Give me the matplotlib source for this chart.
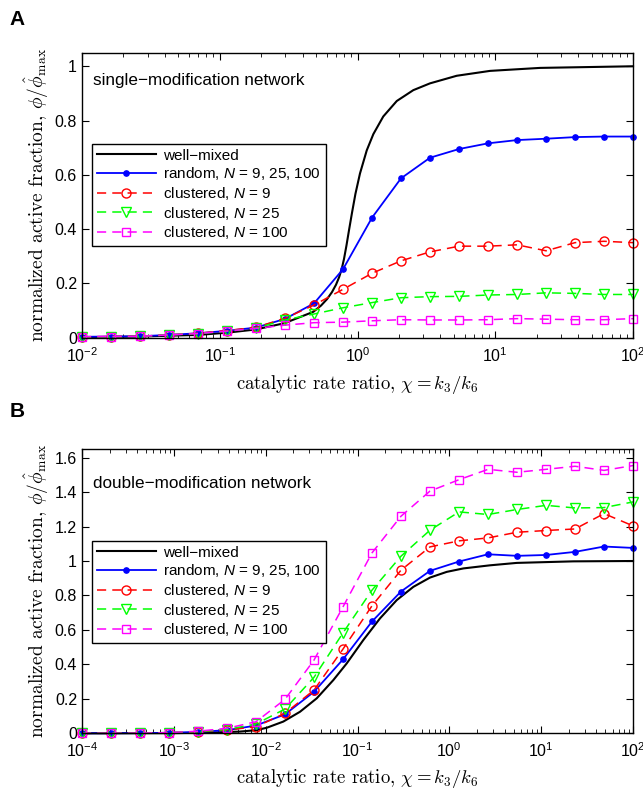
import matplotlib
matplotlib.use("Agg")
import matplotlib.pyplot as plt
import numpy as np

plt.rcParams['font.family'] = ['Liberation Sans', 'DejaVu Sans']
plt.rcParams['mathtext.fontset'] = 'custom'
plt.rcParams['mathtext.rm'] = 'Liberation Sans'
plt.rcParams['mathtext.it'] = 'Liberation Sans:italic'
plt.rcParams['mathtext.bf'] = 'Liberation Sans:bold'

# ---- panel A data (single-modification) ----
chiA = np.logspace(-2, 2, 20)
wmA_logx = [-2.0, -1.579, -1.158, -0.95, -0.739, -0.531, -0.321, -0.265, -0.221, -0.185,
            -0.156, -0.134, -0.115, -0.098, -0.080, -0.062, -0.040, -0.015, 0.018, 0.067,
            0.115, 0.187, 0.285, 0.405, 0.526, 0.720, 0.962, 1.325, 2.0]
wmA_y = [0.001, 0.004, 0.010, 0.018, 0.030, 0.053, 0.095, 0.118, 0.142, 0.168,
         0.195, 0.222, 0.252, 0.290, 0.340, 0.395, 0.460, 0.530, 0.605, 0.690,
         0.750, 0.815, 0.872, 0.912, 0.937, 0.965, 0.983, 0.994, 1.0]
randA = [0.003, 0.004, 0.005, 0.010, 0.016, 0.025, 0.037, 0.069, 0.126, 0.252, 0.442,
         0.587, 0.663, 0.695, 0.716, 0.728, 0.733, 0.739, 0.741, 0.741]
cl9A = [0.003, 0.004, 0.005, 0.010, 0.016, 0.026, 0.038, 0.071, 0.120, 0.178, 0.237,
        0.283, 0.316, 0.337, 0.337, 0.342, 0.320, 0.350, 0.355, 0.350]
cl25A = [0.002, 0.003, 0.005, 0.010, 0.015, 0.023, 0.035, 0.065, 0.087, 0.110, 0.129,
         0.147, 0.151, 0.152, 0.157, 0.159, 0.165, 0.163, 0.159, 0.159]
cl100A = [0.003, 0.004, 0.005, 0.010, 0.015, 0.024, 0.034, 0.046, 0.055, 0.057, 0.062,
          0.066, 0.065, 0.065, 0.066, 0.070, 0.068, 0.066, 0.066, 0.070]

# ---- panel B data (double-modification) ----
chiB = np.logspace(-4, 2, 20)
wmB_logx = [-4.0, -3.0, -2.606, -2.279, -2.105, -1.989, -1.808, -1.626, -1.444, -1.263,
            -1.117, -0.937, -0.755, -0.573, -0.392, -0.210, -0.028, 0.153, 0.443, 0.734,
            1.35, 2.0]
wmB_y = [0.0, 0.001, 0.004, 0.010, 0.018, 0.032, 0.068, 0.125, 0.203, 0.309,
         0.406, 0.541, 0.667, 0.773, 0.850, 0.904, 0.937, 0.957, 0.975, 0.989,
         0.998, 1.0]
randB = [0.0, 0.0, 0.001, 0.003, 0.008, 0.018, 0.045, 0.110, 0.241, 0.429, 0.649,
         0.823, 0.943, 0.997, 1.039, 1.030, 1.035, 1.053, 1.084, 1.076]
cl9B = [0.0, 0.0, 0.001, 0.003, 0.009, 0.019, 0.038, 0.116, 0.251, 0.489, 0.740,
        0.947, 1.082, 1.117, 1.134, 1.167, 1.177, 1.186, 1.275, 1.204]
cl25B = [0.0, 0.0, 0.001, 0.004, 0.010, 0.022, 0.054, 0.141, 0.325, 0.583, 0.831,
         1.028, 1.179, 1.285, 1.270, 1.299, 1.323, 1.308, 1.310, 1.343]
cl100B = [0.0, 0.0, 0.001, 0.004, 0.012, 0.029, 0.067, 0.197, 0.425, 0.734, 1.047,
          1.260, 1.406, 1.472, 1.532, 1.515, 1.532, 1.550, 1.526, 1.554]

labels = ['well\u2212mixed', r'random, $N$ = 9, 25, 100', r'clustered, $N$ = 9',
          r'clustered, $N$ = 25', r'clustered, $N$ = 100']

fig = plt.figure(figsize=(6.43, 7.89), dpi=100)
axA = fig.add_axes([0.1275, 0.5721, 0.857, 0.3611])
axB = fig.add_axes([0.1275, 0.0706, 0.857, 0.3603])

dash = (0, (6, 4))
magenta = (1, 0, 1)
green = (0, 1, 0)

def draw(ax, chi, wlogx, wy, rnd, c9, c25, c100, leg_top, xpad):
    ax.plot(10 ** np.array(wlogx), wy, color='k', lw=1.5, clip_on=False, label=labels[0])
    ax.plot(chi, rnd, color='b', lw=1.3, marker='o', ms=3.8, clip_on=False, label=labels[1])
    ax.plot(chi, c9, color='r', lw=1.1, ls=dash, marker='o', ms=6.5, mfc='none',
            mew=1.0, clip_on=False, label=labels[2])
    ax.plot(chi, c25, color=green, lw=1.1, ls=dash, marker='v', ms=6.5, mfc='none',
            mew=1.0, clip_on=False, label=labels[3])
    ax.plot(chi, c100, color=magenta, lw=1.1, ls=dash, marker='s', ms=5.2, mfc='none',
            mew=1.0, clip_on=False, label=labels[4])
    ax.set_xscale('log')
    ax.tick_params(which='both', direction='in', top=True, right=True, labelsize=11.5)
    ax.tick_params(which='major', length=5)
    ax.tick_params(which='minor', length=3)
    ax.tick_params(axis='x', which='both', pad=6)
    for s in ax.spines.values():
        s.set_linewidth(1.0)
    ax.set_xlabel(r'catalytic rate ratio, $\chi = k_3/k_6$', fontsize=13.5,
                  family='cmr10', math_fontfamily='cm', labelpad=xpad)
    ax.set_ylabel(r'normalized active fraction, $\phi/\hat{\phi}_{\max}$', fontsize=14,
                  family='cmr10', math_fontfamily='cm', labelpad=3)
    leg = ax.legend(loc='upper left', bbox_to_anchor=(0.0175, leg_top), borderaxespad=0,
                    fontsize=11, handlelength=3.9, labelspacing=0.17, borderpad=0.32,
                    handletextpad=0.45, fancybox=False, framealpha=1, edgecolor='k')
    leg.get_frame().set_linewidth(1.0)

draw(axA, chiA, wmA_logx, wmA_y, randA, cl9A, cl25A, cl100A, 0.68, 6)
axA.set_xlim(1e-2, 1e2)
axA.set_ylim(0, 1.05)
axA.set_yticks([0, 0.2, 0.4, 0.6, 0.8, 1])
axA.set_yticklabels(['0', '0.2', '0.4', '0.6', '0.8', '1'])
axA.text(0.02, 0.902, 'single\u2212modification network', transform=axA.transAxes,
         fontsize=12.3, va='center')

draw(axB, chiB, wmB_logx, wmB_y, randB, cl9B, cl25B, cl100B, 0.677, 5)
axB.set_xlim(1e-4, 1e2)
axB.set_ylim(0, 1.65)
axB.set_yticks([0, 0.2, 0.4, 0.6, 0.8, 1, 1.2, 1.4, 1.6])
axB.set_yticklabels(['0', '0.2', '0.4', '0.6', '0.8', '1', '1.2', '1.4', '1.6'])
axB.text(0.02, 0.879, 'double\u2212modification network', transform=axB.transAxes,
         fontsize=12.3, va='center')

fig.text(0.027, 0.975, 'A', fontsize=15, fontweight='bold', va='center', ha='center')
fig.text(0.027, 0.478, 'B', fontsize=15, fontweight='bold', va='center', ha='center')

fig.savefig('out.png', dpi=100)
